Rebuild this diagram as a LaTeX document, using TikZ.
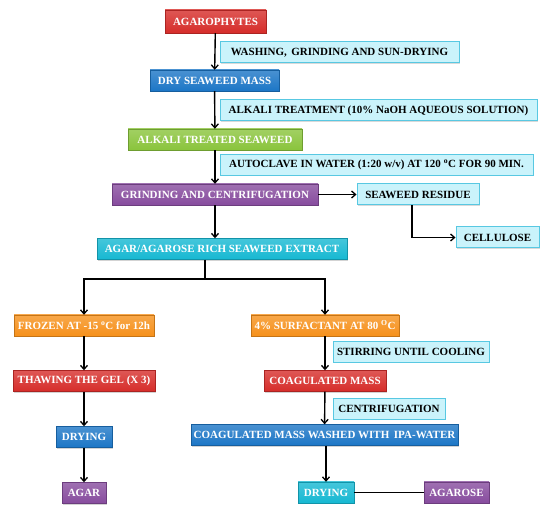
\documentclass[tikz,border=0pt]{standalone}
\usepackage{fontspec}
\setmainfont{Liberation Serif}
\usetikzlibrary{shadows, arrows.meta}

\definecolor{redc}{RGB}{214,45,42}
\definecolor{bluec}{RGB}{28,118,198}
\definecolor{greenc}{RGB}{138,196,60}
\definecolor{purplec}{RGB}{135,76,158}
\definecolor{cyanc}{RGB}{22,184,210}
\definecolor{orangec}{RGB}{246,145,28}
\definecolor{notefill}{RGB}{202,243,251}
\definecolor{noteline}{RGB}{88,200,226}

\begin{document}
\begin{tikzpicture}
        [x=1pt, y=-1pt,
        every node/.style={font=\bfseries\fontsize{11}{12}\selectfont,
          inner sep=0pt, minimum height=21pt},
        stepbox/.style={text=white, draw=#1!80!black, line width=0.4pt,
          top color=#1!80!white, bottom color=#1,
          drop shadow={shadow xshift=1.2pt, shadow yshift=-1.2pt, opacity=0.35}},
        notebox/.style={text=black, draw=noteline, line width=1pt, fill=notefill,
          drop shadow={shadow xshift=1pt, shadow yshift=-1pt, opacity=0.3}},
        arr/.style={-{Straight Barb[length=4pt, width=7pt, line width=1.3pt]}, line width=1.4pt},
        link/.style={line width=1.4pt}]

    \useasboundingbox (0,0) rectangle (550,516);

    \node[stepbox=redc, minimum width=101, minimum height=23] (agaro) at (215.5,21.5) {AGAROPHYTES};
    \node[notebox, minimum width=239] (wash) at (339.5,52.5) {WASHING,\, GRINDING AND SUN-DRYING};
    \node[stepbox=bluec, minimum width=129] (drymass) at (214.5,80.5) {DRY SEAWEED MASS};
    \node[notebox, minimum width=317] (alkali) at (378.5,110.5) {ALKALI TREATMENT (10\% NaOH AQUEOUS SOLUTION)};
    \node[stepbox=greenc, minimum width=174] (treated) at (215,139.5) {ALKALI TREATED SEAWEED};
    \node[notebox, minimum width=313] (autoclave) at (376.5,165) {AUTOCLAVE IN WATER (1:20 w/v) AT 120 \textsuperscript{o}C FOR 90 MIN.};
    \node[stepbox=purplec, minimum width=206] (grind) at (215,194.5) {GRINDING AND CENTRIFUGATION};
    \node[notebox, minimum width=122] (resid) at (418,194.5) {SEAWEED RESIDUE};
    \node[notebox, minimum width=83] (cell) at (497.5,237.5) {CELLULOSE};
    \node[stepbox=cyanc, minimum width=250] (extract) at (222,249) {AGAR/AGAROSE RICH SEAWEED EXTRACT};

    \node[stepbox=orangec, minimum width=140] (frozen) at (84,325.5) {FROZEN AT -15 \textsuperscript{o}C for 12h};
    \node[stepbox=orangec, minimum width=148] (surf) at (325,325.5) {4\% SURFACTANT AT 80 \textsuperscript{O}C};
    \node[notebox, minimum width=156] (stir) at (411,352) {STIRRING UNTIL COOLING};
    \node[stepbox=redc, minimum width=142] (thaw) at (84,381) {THAWING THE GEL (X 3)};
    \node[stepbox=redc, minimum width=122] (coag) at (325,381) {COAGULATED MASS};
    \node[notebox, minimum width=112] (centri) at (389,409) {CENTRIFUGATION};
    \node[stepbox=bluec, minimum width=56] (dry1) at (84,437) {DRYING};
    \node[stepbox=bluec, minimum width=267] (washed) at (324.5,435) {COAGULATED MASS WASHED WITH\, IPA-WATER};
    \node[stepbox=purplec, minimum width=44] (agar) at (84,493) {AGAR};
    \node[stepbox=cyanc, minimum width=56] (dry2) at (326,492.5) {DRYING};
    \node[stepbox=purplec, minimum width=65] (agarose) at (456.5,492.5) {AGAROSE};

    \coordinate (split) at (205,279);

    \draw[arr] (agaro) -- (drymass);
    \draw[arr] (drymass) -- (treated);
    \draw[arr] (treated) -- (grind);
    \draw[arr] (grind) -- (resid);
    \draw[arr] ([xshift=-6pt]resid.south) |- (cell.west);
    \draw[arr] (grind.south) -- (grind.south |- extract.north);
    \draw[link] (extract.south -| split) -- (split);
    \draw[arr] (split) -| (frozen.north);
    \draw[arr] (split) -| (surf.north);
    \draw[arr] (frozen) -- (thaw);
    \draw[arr] (thaw) -- (dry1);
    \draw[arr] (dry1) -- (agar);
    \draw[arr] (surf) -- (coag);
    \draw[arr] (coag) -- (washed);
    \draw[arr] (washed.south -| dry2) -- (dry2.north);
    \draw[link] (dry2) -- (agarose);
\end{tikzpicture}
\end{document}
